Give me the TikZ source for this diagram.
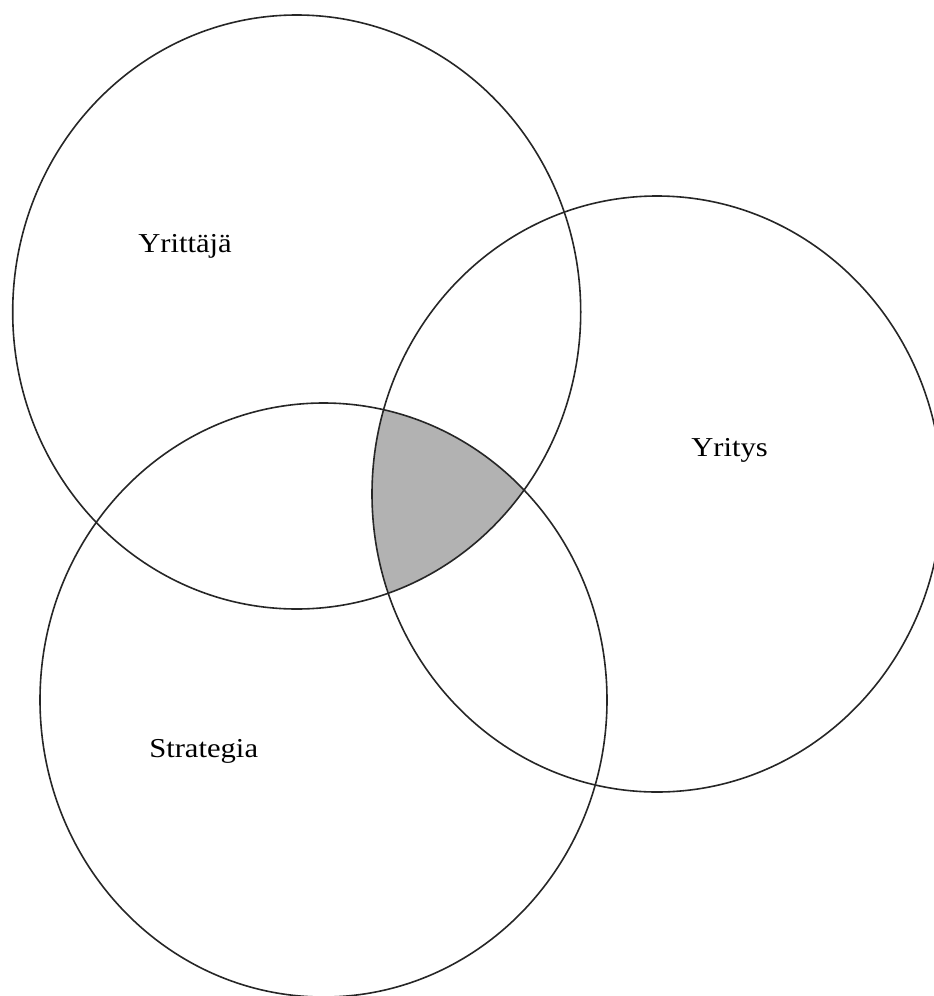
\documentclass[tikz,border=0pt]{standalone}
\usepackage{fontspec}
\setmainfont{Liberation Serif}
\newfontfamily\labelfont[FakeStretch=1.12]{Liberation Serif}
\begin{document}
\begin{tikzpicture}[x=0.75pt,y=-0.75pt,
  setline/.style={draw=black!85, line width=1.2pt},
  setlabel/.style={font=\labelfont\fontsize{20.5}{24}\selectfont, text=black, inner sep=0pt}]
\useasboundingbox (0,0) rectangle (934,996);
\clip (0,0) rectangle (934,996);
% centres of the three sets
\coordinate (cA) at (296.7,312);
\coordinate (cB) at (657,494);
\coordinate (cC) at (323.5,700);
% common part of all three sets
\begin{scope}
  \clip (cA) ellipse [x radius=284, y radius=297];
  \clip (cB) ellipse [x radius=285, y radius=298];
  \fill[black!30] (cC) ellipse [x radius=283.5, y radius=297];
\end{scope}
% outlines
\draw[setline] (cA) ellipse [x radius=284, y radius=297];
\draw[setline] (cB) ellipse [x radius=285, y radius=298];
\draw[setline] (cC) ellipse [x radius=283.5, y radius=297];
% labels
\node[setlabel, anchor=base west] (lA) at (138,252) {Yrittäjä};
\node[setlabel, anchor=base west] (lB) at (691,456) {Yritys};
\node[setlabel, anchor=base west] (lC) at (149,757) {Strategia};
\end{tikzpicture}
\end{document}
